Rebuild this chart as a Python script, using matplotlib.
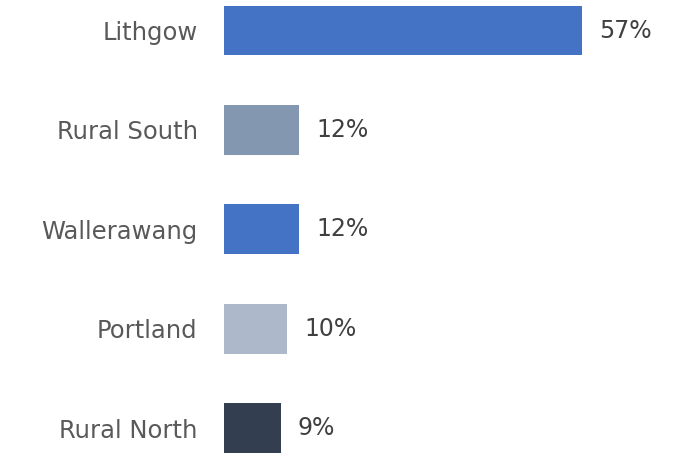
import matplotlib
matplotlib.use('Agg')
import matplotlib.pyplot as plt

areas = ['Lithgow', 'Rural South', 'Wallerawang', 'Portland', 'Rural North']
shares = [57, 12, 12, 10, 9]
colors = ['#4472C4', '#8497B0', '#4472C4', '#ADB9CA', '#333F50']

fig = plt.figure(figsize=(6.79, 4.54), dpi=100)
ax = fig.add_axes([224 / 679, 0, 455 / 679, 1])

y = list(range(len(areas)))
ax.barh(y, shares, height=0.5, color=colors)

for yi, v in zip(y, shares):
    ax.annotate(f'{v}%', (v, yi), xytext=(12.5, 0), textcoords='offset points',
                va='center', ha='left', fontsize=17, color='#404040')

ax.set_yticks(y)
ax.set_yticklabels(areas, fontsize=17.5, color='#595959')
ax.tick_params(axis='y', length=0, pad=19)
ax.set_xticks([])
ax.set_xlim(0, 72.4)
ax.set_ylim(4.26, -0.307)
for s in ax.spines.values():
    s.set_visible(False)

fig.savefig('out.png', dpi=100)
